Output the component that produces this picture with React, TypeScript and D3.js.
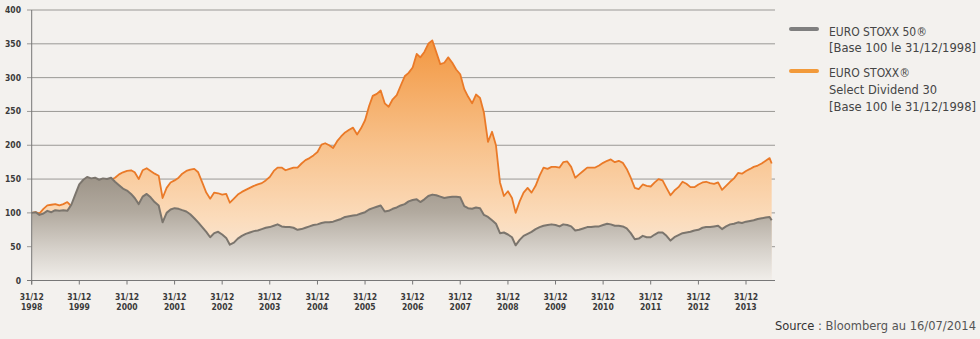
import React from "react";
import * as d3 from "d3";

// month-end values, base 100 on 31/12/1998 (first value = Dec 1998)
const euroStoxx50: number[] = [
  100,
  101, 97, 99, 103, 101, 104, 103, 104, 103, 112, 127, 142, // 1999
  149, 153, 151, 152, 149, 151, 150, 152, 146, 141, 136, 133, // 2000
  128, 122, 113, 124, 128, 123, 116, 111, 86, 100, 105, 107, // 2001
  106, 104, 102, 98, 92, 86, 79, 72, 64, 70, 72, 68, // 2002
  63, 53, 56, 62, 66, 69, 71, 73, 74, 76, 78, 79, // 2003
  81, 83, 80, 79, 79, 78, 75, 76, 78, 80, 82, 83, // 2004
  85, 86, 86, 87, 89, 91, 94, 95, 96, 97, 99, 101, // 2005
  105, 107, 109, 111, 102, 103, 106, 108, 111, 113, 117, 119, // 2006
  120, 116, 120, 125, 127, 126, 124, 122, 123, 124, 124, 123, // 2007
  110, 107, 106, 108, 107, 97, 94, 89, 84, 70, 71, 68, // 2008
  64, 52, 60, 66, 69, 72, 76, 79, 81, 82, 83, 82, // 2009
  80, 83, 82, 80, 74, 75, 77, 79, 79, 80, 80, 82, // 2010
  84, 83, 81, 81, 80, 77, 70, 61, 62, 66, 64, 64, // 2011
  68, 71, 71, 66, 59, 64, 67, 70, 71, 72, 74, 75, // 2012
  78, 79, 79, 80, 81, 76, 80, 83, 84, 86, 85, 87, // 2013
  88, 89, 91, 92, 93, 94, // 2014
  89, // 16/07/2014
];

const selectDividend30: number[] = [
  100,
  101, 99, 106, 111, 112, 113, 111, 113, 116, 110, 118, 128, // 1999
  135, 140, 143, 146, 145, 147, 148, 149, 152, 157, 160, 162, // 2000
  163, 160, 150, 163, 166, 162, 158, 155, 122, 137, 145, 148, // 2001
  152, 158, 162, 164, 165, 160, 145, 130, 121, 130, 129, 127, // 2002
  128, 115, 121, 127, 131, 134, 137, 140, 142, 144, 148, 153, // 2003
  162, 167, 167, 163, 165, 167, 167, 173, 178, 181, 185, 190, // 2004
  201, 203, 200, 196, 206, 213, 219, 223, 226, 216, 225, 237, // 2005
  258, 273, 276, 281, 262, 257, 268, 274, 288, 302, 307, 315, // 2006
  335, 330, 338, 350, 355, 338, 320, 322, 330, 322, 312, 305, // 2007
  283, 272, 262, 275, 270, 248, 205, 220, 200, 145, 125, 132, // 2008
  122, 100, 117, 130, 137, 130, 140, 155, 167, 165, 168, 168, // 2009
  167, 175, 176, 168, 152, 157, 162, 167, 167, 167, 170, 174, // 2010
  177, 179, 175, 177, 174, 165, 152, 137, 135, 142, 140, 139, // 2011
  145, 150, 148, 137, 126, 133, 138, 146, 143, 138, 138, 142, // 2012
  145, 146, 144, 143, 145, 134, 140, 146, 151, 159, 158, 162, // 2013
  165, 168, 170, 173, 177, 181, // 2014
  173, // 16/07/2014
];

const tickYears: number[] = [
  1998, 1999, 2000, 2001, 2002, 2003, 2004, 2005, 2006, 2007, 2008, 2009,
  2010, 2011, 2012, 2013,
];
const yTicks: number[] = [0, 50, 100, 150, 200, 250, 300, 350, 400];

// month ends from 31/12/1998, then the last quote on 16/07/2014
const monthCount = euroStoxx50.length - 1;
const dates: Date[] = [
  ...d3.range(monthCount).map((i) => new Date(1999, i, 0)),
  new Date(2014, 6, 16),
];

const W = 980;
const H = 339;
const plotLeft = 31.7;
const plotRight = 775;

const tickFont = "'DejaVu Sans Condensed', 'Liberation Sans Narrow', sans-serif";
const textFont = "'Liberation Sans Narrow', 'DejaVu Sans Condensed', sans-serif";

export default function App() {
  const x = d3
    .scaleTime()
    .domain([new Date(1998, 11, 31), new Date(2013, 11, 31)])
    .range([plotLeft, 746]);
  const y = d3.scaleLinear().domain([0, 400]).range([280.5, 10]);

  const area = (vals: number[]) =>
    d3
      .area<number>()
      .x((_, i) => x(dates[i]))
      .y0(y(0))
      .y1((d) => y(d))(vals) || "";
  const line = (vals: number[]) =>
    d3
      .line<number>()
      .x((_, i) => x(dates[i]))
      .y((d) => y(d))(vals) || "";

  return (
    <svg
      width={W}
      height={H}
      style={{ position: "absolute", left: 0, top: 0, display: "block" }}
    >
      <defs>
        <linearGradient id="gOrange" gradientUnits="userSpaceOnUse" x1="0" x2="0" y1={y(360)} y2={y(0)}>
          <stop offset="0" stopColor="#f2963f" />
          <stop offset="0.45" stopColor="#f8c28c" />
          <stop offset="0.75" stopColor="#fbdcbc" />
          <stop offset="1" stopColor="#f5eee7" />
        </linearGradient>
        <linearGradient id="gGrey" gradientUnits="userSpaceOnUse" x1="0" x2="0" y1={y(155)} y2={y(0)}>
          <stop offset="0" stopColor="#9c9387" />
          <stop offset="0.35" stopColor="#b2aa9f" />
          <stop offset="0.7" stopColor="#d6d1ca" />
          <stop offset="1" stopColor="#f1eeea" />
        </linearGradient>
      </defs>
      <rect x={0} y={0} width={W} height={H} fill="#f3f1ee" />

      {/* grid */}
      {yTicks.map((t) => (
        <line
          key={t}
          x1={27}
          x2={plotRight}
          y1={y(t)}
          y2={y(t)}
          stroke="#9a9895"
          strokeWidth={1}
        />
      ))}

      {/* areas */}
      <path d={area(selectDividend30)} fill="url(#gOrange)" />
      <path d={line(selectDividend30)} fill="none" stroke="#ea7a28" strokeWidth={1.8} strokeLinejoin="round" />
      <path d={area(euroStoxx50)} fill="url(#gGrey)" />
      <path d={line(euroStoxx50)} fill="none" stroke="#7b756d" strokeWidth={2} strokeLinejoin="round" />

      {/* axes */}
      <line x1={plotLeft} x2={plotLeft} y1={y(400)} y2={y(0) + 4} stroke="#777" strokeWidth={1} />
      <line x1={27} x2={plotRight} y1={y(0)} y2={y(0)} stroke="#777" strokeWidth={1} />
      {tickYears.map((yr) => {
        const tx = x(new Date(yr, 11, 31));
        return (
          <g key={yr}>
            <line x1={tx} x2={tx} y1={y(0)} y2={y(0) + 4} stroke="#777" />
            <text
              x={tx}
              y={299.5}
              textAnchor="middle"
              fontFamily={tickFont}
              fontWeight="bold"
              fontSize={8.5}
              fill="#3a3a3a"
            >
              31/12
            </text>
            <text
              x={tx}
              y={309.5}
              textAnchor="middle"
              fontFamily={tickFont}
              fontWeight="bold"
              fontSize={8.5}
              fill="#3a3a3a"
            >
              {yr}
            </text>
          </g>
        );
      })}
      {yTicks.map((t) => (
        <text
          key={t}
          x={21}
          y={y(t) + 3}
          textAnchor="end"
          fontFamily={tickFont}
          fontWeight="bold"
          fontSize={8.5}
          fill="#3a3a3a"
        >
          {t}
        </text>
      ))}

      {/* legend */}
      <line x1={791} x2={817} y1={29} y2={29} stroke="#7f7f7f" strokeWidth={4} strokeLinecap="round" />
      <line x1={791} x2={817} y1={71} y2={71} stroke="#f29a3a" strokeWidth={4} strokeLinecap="round" />
      <g fontFamily={textFont} fontSize={13} fill="#454545">
        <text x={829} y={35.5} textLength={98} lengthAdjust="spacingAndGlyphs">EURO STOXX 50®</text>
        <text x={829} y={52} textLength={147} lengthAdjust="spacingAndGlyphs">[Base 100 le 31/12/1998]</text>
        <text x={829} y={76.5} textLength={81} lengthAdjust="spacingAndGlyphs">EURO STOXX®</text>
        <text x={829} y={93.5} textLength={108} lengthAdjust="spacingAndGlyphs">Select Dividend 30</text>
        <text x={829} y={110.5} textLength={147} lengthAdjust="spacingAndGlyphs">[Base 100 le 31/12/1998]</text>
      </g>

      {/* source */}
      <text x={775} y={330} fontFamily={textFont} fontSize={13} textLength={201} lengthAdjust="spacingAndGlyphs">
        <tspan fill="#333">Source</tspan>
        <tspan fill="#555"> : Bloomberg au 16/07/2014</tspan>
      </text>
    </svg>
  );
}
